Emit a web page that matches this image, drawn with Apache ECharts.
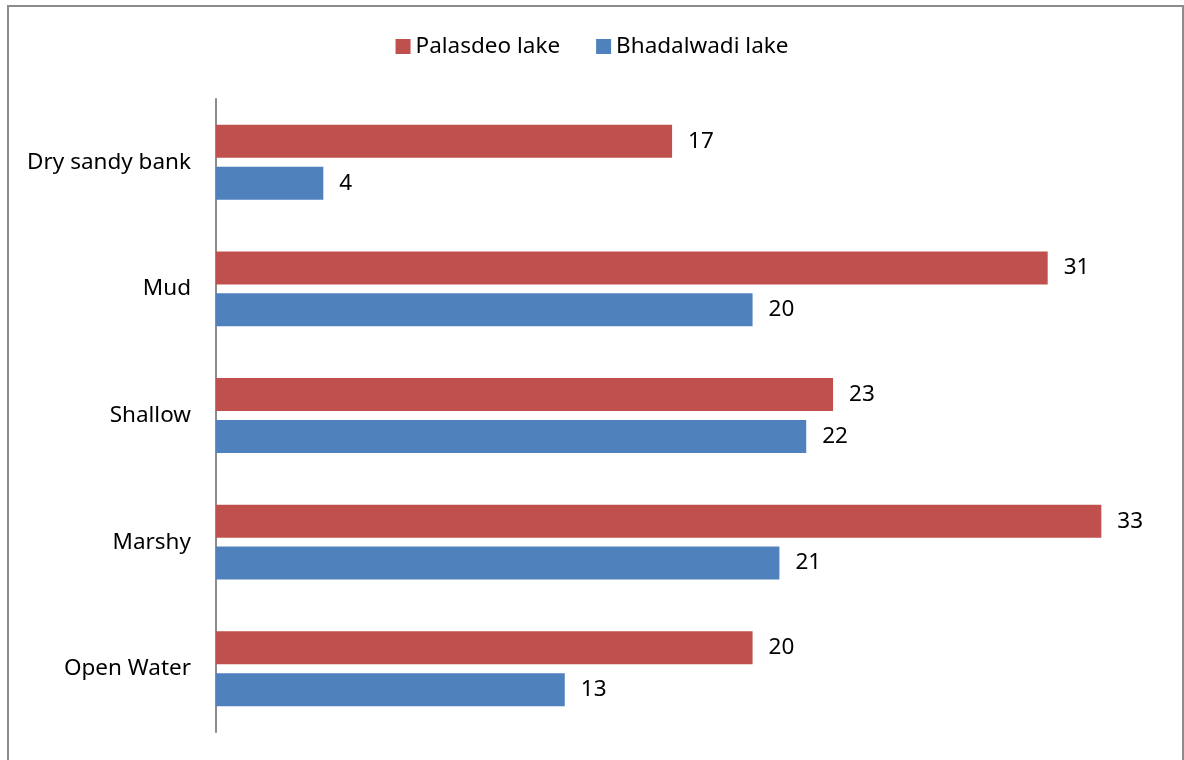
<!DOCTYPE html>
<html>
<head>
<meta charset="utf-8">
<script src="https://cdn.jsdelivr.net/npm/echarts@6/dist/echarts.min.js"></script>
<style>
  html, body { margin: 0; padding: 0; background: #fff; }
  #main { width: 1184px; height: 760px; }
</style>
</head>
<body>
<div id="main"></div>
<script>
var categories = ['Dry sandy bank', 'Mud', 'Shallow', 'Marshy', 'Open Water'];
var palasdeo = [17, 31, 23, 33, 20];
var bhadalwadi = [4, 20, 22, 21, 13];

var font = '"Noto Sans", sans-serif';
var chart = echarts.init(document.getElementById('main'));

chart.setOption({
  animation: false,
  backgroundColor: '#fff',
  graphic: [{
    type: 'rect',
    shape: { x: 8, y: 6, width: 1175, height: 800 },
    style: { fill: 'none', stroke: '#8c8c8c', lineWidth: 2 },
    silent: true
  }],
  legend: {
    top: 30,
    left: 'center',
    itemWidth: 15,
    itemHeight: 15,
    itemGap: 36,
    icon: 'rect',
    textStyle: { fontFamily: font, fontSize: 22.5, color: '#000' },
    data: ['Palasdeo lake', 'Bhadalwadi lake']
  },
  grid: { left: 216, right: 29, top: 99, bottom: 28, containLabel: false },
  xAxis: {
    type: 'value',
    min: 0,
    max: 35,
    show: false
  },
  yAxis: {
    type: 'category',
    inverse: true,
    data: categories,
    axisLine: { show: true, lineStyle: { color: '#8c8c8c', width: 2 } },
    axisTick: { show: false },
    axisLabel: { fontFamily: font, fontSize: 22.5, color: '#000', margin: 25 }
  },
  series: [{
    name: 'Palasdeo lake',
    type: 'bar',
    data: palasdeo,
    barWidth: 33,
    barGap: '27%',
    itemStyle: { color: '#C0504D' },
    label: { show: true, position: 'right', distance: 16, fontFamily: font, fontSize: 22.5, color: '#000' }
  }, {
    name: 'Bhadalwadi lake',
    type: 'bar',
    data: bhadalwadi,
    barWidth: 33,
    barGap: '27%',
    itemStyle: { color: '#4F81BD' },
    label: { show: true, position: 'right', distance: 16, fontFamily: font, fontSize: 22.5, color: '#000' }
  }]
});
</script>
</body>
</html>
